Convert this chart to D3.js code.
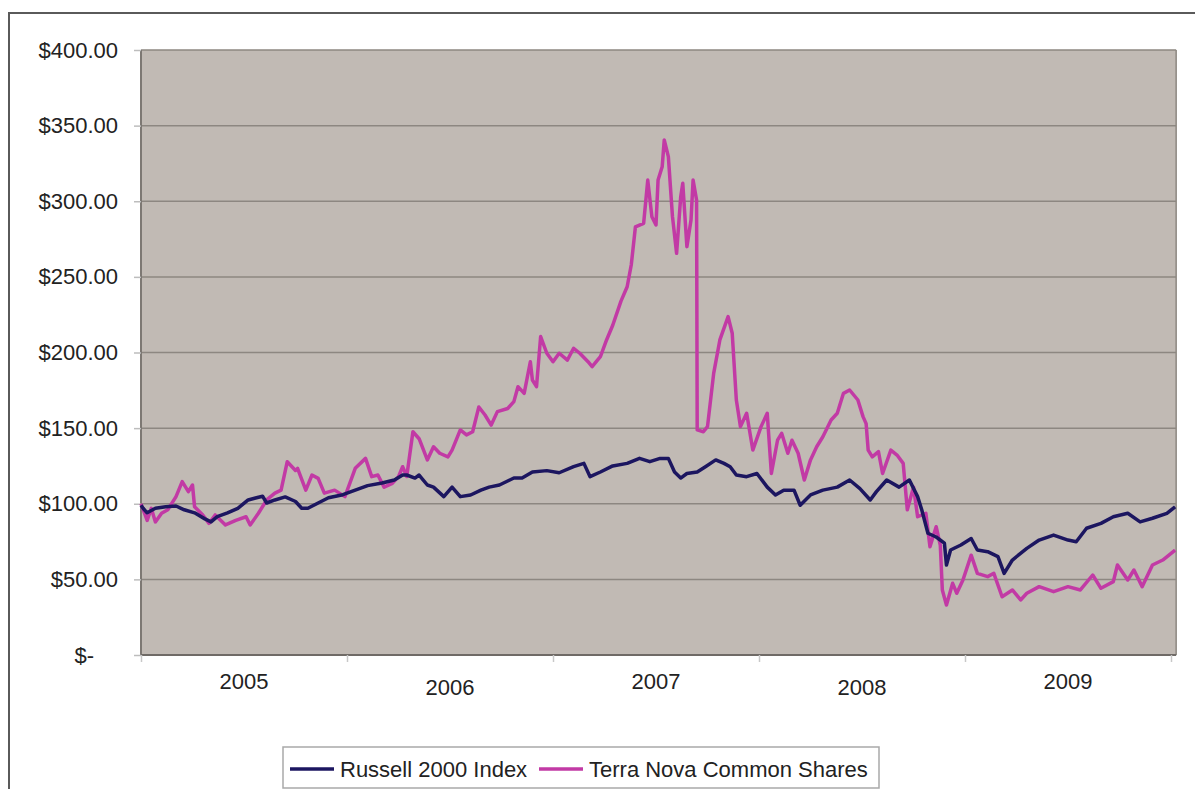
<!DOCTYPE html>
<html>
<head>
<meta charset="utf-8">
<script src="https://cdn.jsdelivr.net/npm/d3@7"></script>
<style>
  html, body { margin: 0; padding: 0; background: #fff; }
  svg { display: block; font-family: "Liberation Sans", Arial, sans-serif; }
</style>
</head>
<body>
<svg id="chart" width="1195" height="789"></svg>
<script>
// ---- data (x in decimal years, y in dollars) ----
const seriesNames = ["Russell 2000 Index", "Terra Nova Common Shares"];
const seriesColors = ["#1c1660", "#c23aa5"];
const yTicks = [0, 50, 100, 150, 200, 250, 300, 350, 400];
const yearLabels = ["2005", "2006", "2007", "2008", "2009"];
const yearBounds = [2005, 2006, 2007, 2008, 2009, 2010];

const russell = [
  [2005.00, 99], [2005.01, 97], [2005.03, 94], [2005.07, 97], [2005.12, 98], [2005.17, 98.5],
  [2005.21, 96], [2005.26, 94], [2005.31, 90], [2005.34, 88], [2005.37, 91.5], [2005.42, 94],
  [2005.47, 97], [2005.52, 102.5], [2005.59, 105], [2005.61, 100.5], [2005.65, 102.5],
  [2005.70, 104.5], [2005.75, 101.5], [2005.78, 97], [2005.81, 97], [2005.86, 100.5],
  [2005.91, 104], [2005.98, 106], [2006.04, 109], [2006.10, 112], [2006.17, 113.7],
  [2006.23, 115.7], [2006.27, 119], [2006.29, 119], [2006.33, 117], [2006.35, 119],
  [2006.39, 112.4], [2006.42, 111], [2006.47, 104.7], [2006.51, 111], [2006.55, 104.7],
  [2006.60, 105.8], [2006.65, 109], [2006.69, 111], [2006.74, 112.4], [2006.81, 117],
  [2006.85, 117], [2006.90, 121], [2006.97, 121.9], [2007.03, 120.5], [2007.10, 124.5],
  [2007.15, 126.7], [2007.18, 117.9], [2007.23, 121], [2007.29, 125], [2007.36, 126.7],
  [2007.42, 130], [2007.47, 127.8], [2007.52, 130], [2007.56, 130], [2007.59, 121],
  [2007.62, 117], [2007.65, 120], [2007.70, 121], [2007.74, 124.5], [2007.79, 129],
  [2007.83, 126.7], [2007.86, 124.5], [2007.89, 119], [2007.94, 117.9], [2007.99, 120],
  [2008.04, 111], [2008.08, 105.8], [2008.12, 109], [2008.17, 109], [2008.20, 99],
  [2008.25, 105.8], [2008.31, 109], [2008.38, 111], [2008.44, 115.7], [2008.49, 110],
  [2008.54, 102.5], [2008.57, 108], [2008.62, 115.7], [2008.68, 111], [2008.73, 115.7],
  [2008.77, 104.7], [2008.79, 96], [2008.82, 80.5], [2008.86, 78], [2008.90, 74],
  [2008.91, 59.5], [2008.93, 69.4], [2008.98, 72.7], [2009.03, 77], [2009.06, 69.4],
  [2009.11, 68.3], [2009.16, 65], [2009.19, 54], [2009.23, 62.8], [2009.30, 70.5],
  [2009.36, 76], [2009.43, 79.3], [2009.50, 76], [2009.54, 74.9], [2009.59, 83.8],
  [2009.66, 87], [2009.72, 91.4], [2009.79, 93.7], [2009.85, 88], [2009.91, 90.4],
  [2009.98, 93.7], [2010.02, 98]
];

const terraNova = [
  [2005.00, 100], [2005.03, 89], [2005.05, 97], [2005.07, 88], [2005.10, 93.7], [2005.13, 96],
  [2005.17, 104.7], [2005.20, 114.6], [2005.23, 108], [2005.25, 112.4], [2005.26, 98],
  [2005.30, 92.6], [2005.33, 87], [2005.36, 92.6], [2005.41, 86], [2005.46, 89], [2005.51, 91.4],
  [2005.53, 86], [2005.57, 93.7], [2005.61, 102.5], [2005.65, 107], [2005.68, 109],
  [2005.71, 127.8], [2005.75, 122], [2005.76, 123.4], [2005.80, 109], [2005.83, 119],
  [2005.86, 116.8], [2005.89, 107], [2005.94, 109], [2005.99, 104.7], [2006.04, 123.4],
  [2006.09, 130], [2006.12, 117.9], [2006.15, 119], [2006.18, 111], [2006.22, 113.5],
  [2006.25, 117.9], [2006.27, 124.5], [2006.29, 118], [2006.32, 147.6], [2006.35, 143],
  [2006.39, 129], [2006.42, 137.7], [2006.45, 133.4], [2006.49, 131], [2006.51, 135.5],
  [2006.55, 148.8], [2006.58, 145.5], [2006.61, 147.6], [2006.64, 164], [2006.67, 158.7],
  [2006.70, 152], [2006.73, 160.9], [2006.78, 163], [2006.81, 167.5], [2006.83, 177.4],
  [2006.86, 173], [2006.89, 193.9], [2006.90, 181.8], [2006.92, 177.4], [2006.94, 210.5],
  [2006.97, 199.5], [2007.00, 193.9], [2007.03, 199.5], [2007.07, 195], [2007.10, 202.8],
  [2007.13, 199.5], [2007.17, 193.9], [2007.19, 190.6], [2007.23, 197.2], [2007.26, 208.3],
  [2007.29, 218], [2007.33, 234], [2007.36, 243.5], [2007.38, 258], [2007.40, 283],
  [2007.44, 285.4], [2007.46, 314], [2007.48, 289.8], [2007.50, 284.3], [2007.51, 314],
  [2007.53, 322.8], [2007.54, 340.5], [2007.56, 329.5], [2007.58, 289.8], [2007.60, 265.6],
  [2007.62, 303], [2007.63, 311.9], [2007.65, 270], [2007.67, 287.6], [2007.68, 314],
  [2007.697, 300.8], [2007.70, 148.8], [2007.73, 147.6], [2007.75, 151], [2007.78, 186.2],
  [2007.81, 208.3], [2007.85, 223.7], [2007.87, 212.7], [2007.89, 168.6], [2007.91, 151],
  [2007.94, 159.8], [2007.97, 135.5], [2008.01, 151], [2008.04, 159.8], [2008.06, 120],
  [2008.09, 142], [2008.11, 146.6], [2008.14, 133.4], [2008.16, 142], [2008.19, 133.4],
  [2008.22, 115.7], [2008.25, 129], [2008.28, 137.7], [2008.31, 144.3], [2008.35, 155.4],
  [2008.38, 159.8], [2008.41, 173], [2008.44, 175.2], [2008.48, 168.6], [2008.505, 157.6],
  [2008.52, 153], [2008.53, 135.5], [2008.55, 131], [2008.58, 134.4], [2008.60, 120],
  [2008.64, 135.5], [2008.67, 132.2], [2008.70, 126.7], [2008.72, 96], [2008.75, 111],
  [2008.77, 91.4], [2008.81, 93.7], [2008.83, 71.6], [2008.86, 84.8], [2008.88, 72.7],
  [2008.89, 43], [2008.91, 33], [2008.94, 47.4], [2008.96, 40.8], [2008.99, 49.6],
  [2009.03, 66], [2009.06, 54], [2009.11, 51.8], [2009.14, 54], [2009.18, 38.5],
  [2009.23, 43], [2009.27, 36.4], [2009.30, 40.8], [2009.36, 45.2], [2009.43, 41.9],
  [2009.50, 45.2], [2009.56, 43], [2009.62, 52.9], [2009.66, 44.1], [2009.72, 48.5],
  [2009.74, 59.5], [2009.79, 49.6], [2009.82, 56.2], [2009.86, 45.2], [2009.91, 59.5],
  [2009.96, 62.8], [2010.02, 69.4]
];

// ---- layout ----
const svg = d3.select("#chart");
const plot = { left: 141, top: 50, bottom: 655 };
const xEnd = 2010.025;

const x = d3.scaleLinear().domain([2005, 2010]).range([plot.left, 1171]);
const y = d3.scaleLinear().domain([0, 400]).range([plot.bottom, plot.top]);

// outer frame
svg.append("rect")
  .attr("x", 9).attr("y", 13).attr("width", 1200).attr("height", 800)
  .attr("fill", "#fff").attr("stroke", "#5a5a5a").attr("stroke-width", 2);

// plot background
svg.append("rect")
  .attr("x", x(2005)).attr("y", y(400))
  .attr("width", x(xEnd) - x(2005)).attr("height", y(0) - y(400))
  .attr("fill", "#c1bab4");

// gridlines
svg.append("g").selectAll("line").data(yTicks.filter(d => d > 0)).join("line")
  .attr("x1", x(2005)).attr("x2", x(xEnd))
  .attr("y1", d => y(d)).attr("y2", d => y(d))
  .attr("stroke", "#8d8781").attr("stroke-width", 1.5);

// plot borders
svg.append("line").attr("x1", x(2005)).attr("x2", x(2005)).attr("y1", y(400)).attr("y2", y(0))
  .attr("stroke", "#7d7873").attr("stroke-width", 2);
svg.append("line").attr("x1", x(xEnd)).attr("x2", x(xEnd)).attr("y1", y(400)).attr("y2", y(0))
  .attr("stroke", "#8d8781").attr("stroke-width", 1.5);
svg.append("line").attr("x1", x(2005)).attr("x2", x(xEnd)).attr("y1", y(0)).attr("y2", y(0))
  .attr("stroke", "#6f6a66").attr("stroke-width", 2);

// y axis
const yAxis = d3.axisLeft(y).tickValues(yTicks).tickSize(7).tickPadding(16)
  .tickFormat(d => d === 0 ? "$-" : "$" + d3.format(".2f")(d));
const gy = svg.append("g").attr("transform", `translate(${x(2005)},0)`).call(yAxis);
gy.select(".domain").remove();
gy.selectAll(".tick line").attr("stroke", "#bdbdbd").attr("stroke-width", 1.5);
gy.selectAll(".tick text").attr("font-size", 22).attr("fill", "#222")
  .attr("font-family", "'Liberation Sans', Arial, sans-serif")
  .attr("dx", d => d === 0 ? -24 : 0);

// x axis (ticks at year boundaries, labels in the middle of each year)
const xAxis = d3.axisBottom(x).tickValues(yearBounds).tickSize(7).tickFormat("");
const gx = svg.append("g").attr("transform", `translate(0,${y(0)})`).call(xAxis);
gx.select(".domain").remove();
gx.selectAll(".tick line").attr("stroke", "#c8c8c8").attr("stroke-width", 1.5);

svg.append("g").selectAll("text").data(yearLabels).join("text")
  .attr("x", (d, i) => x(yearBounds[i] + 0.5))
  .attr("y", (d, i) => y(0) + (i % 2 === 0 ? 34 : 40))
  .attr("text-anchor", "middle")
  .attr("font-size", 22).attr("fill", "#222")
  .text(d => d);

// lines
const line = d3.line().x(d => x(d[0])).y(d => y(d[1]));
const allSeries = [russell, terraNova];
svg.append("g").selectAll("path").data([1, 0]).join("path")
  .attr("d", i => line(allSeries[i]))
  .attr("fill", "none")
  .attr("stroke", i => seriesColors[i])
  .attr("stroke-width", 3.5)
  .attr("stroke-linejoin", "round");

// legend
const lg = svg.append("g");
lg.append("rect").attr("x", 283).attr("y", 747).attr("width", 596).attr("height", 41)
  .attr("fill", "#fff").attr("stroke", "#a9a9a9").attr("stroke-width", 1.5);
const legendItems = [
  { x0: 290, name: seriesNames[0], color: seriesColors[0] },
  { x0: 539, name: seriesNames[1], color: seriesColors[1] }
];
legendItems.forEach(it => {
  lg.append("line").attr("x1", it.x0).attr("x2", it.x0 + 44)
    .attr("y1", 769).attr("y2", 769)
    .attr("stroke", it.color).attr("stroke-width", 3.5);
  lg.append("text").attr("x", it.x0 + 50).attr("y", 777)
    .attr("font-size", 22).attr("fill", "#222").text(it.name);
});
</script>
</body>
</html>
